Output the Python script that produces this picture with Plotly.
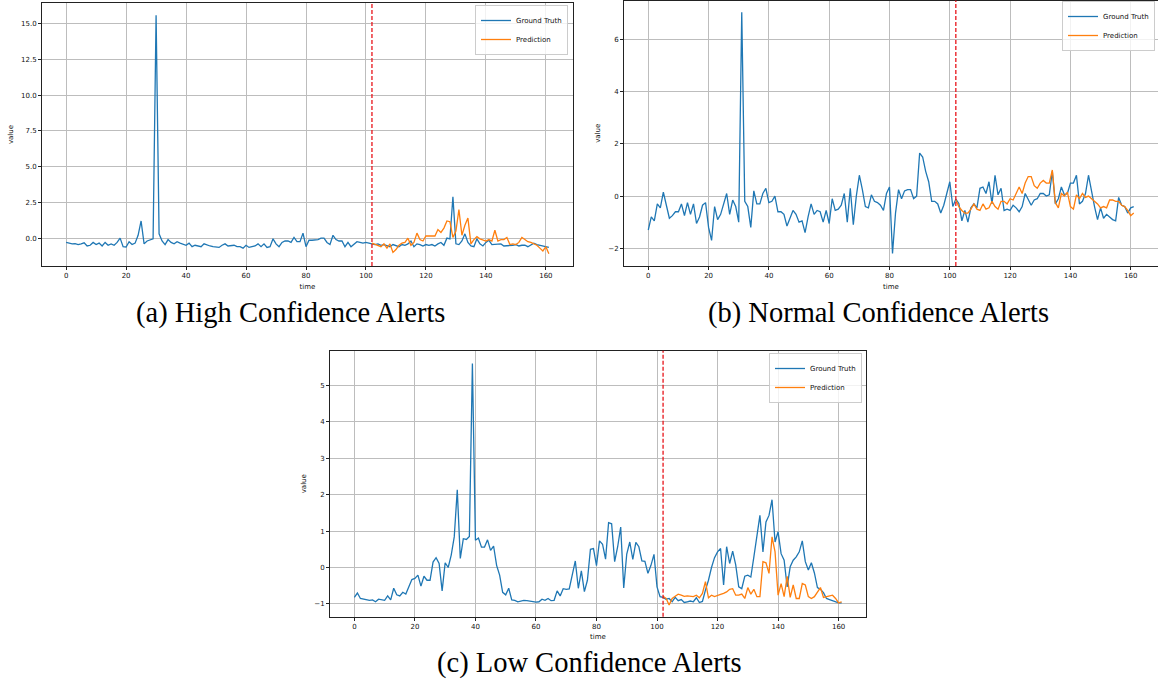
import plotly.graph_objects as go

# ---------------- data ----------------
time_gt = list(range(0, 162))
time_pred = list(range(102, 162))
split_time = 102

gt_high = [
    -0.3, -0.35, -0.4, -0.38, -0.45, -0.4, -0.33, -0.55, -0.5, -0.3,
    -0.45, -0.35, -0.55, -0.3, -0.5, -0.4, -0.5, -0.3, 0.0, -0.6,
    -0.62, -0.25, -0.45, -0.35, 0.2, 1.2, -0.4, -0.2, -0.1, -0.05,
    15.6, 0.3, -0.2, -0.45, -0.1, -0.3, -0.4, -0.25, -0.35, -0.45,
    -0.5, -0.35, -0.6, -0.5, -0.55, -0.6, -0.4, -0.5, -0.55, -0.6,
    -0.6, -0.65, -0.5, -0.4, -0.55, -0.55, -0.5, -0.6, -0.6, -0.7,
    -0.5, -0.65, -0.6, -0.55, -0.4, -0.6, -0.4, -0.65, -0.6, -0.05,
    -0.4, -0.6, -0.3, -0.2, -0.2, -0.3, 0.05, -0.25, -0.25, 0.35,
    -0.6, -0.15, -0.15, -0.15, -0.1, 0.0, 0.0, -0.3, -0.45, 0.2,
    -0.1, -0.2, -0.2, -0.6, -0.3, -0.6, -0.4, -0.25, -0.3, -0.35,
    -0.3, -0.35,
    -0.35, -0.45, -0.4, -0.5, -0.45, -0.5, -0.6, -0.45, -0.5, -0.6,
    -0.45, -0.5, -0.4, -0.2, -0.6, -0.4, -0.45, -0.55, -0.45, -0.5,
    -0.45, -0.55, -0.4, -0.3, -0.5, 0.0, -0.05, 2.9, -0.4, -0.45,
    -0.2, 0.3, -0.3, -0.55, -0.6, -0.05, -0.4, -0.55, -0.3, -0.15,
    -0.45, -0.45, -0.45, -0.4, -0.55, -0.55, -0.5, -0.5, -0.45, -0.55,
    -0.5, -0.5, -0.6, -0.5, -0.35, -0.45, -0.5, -0.6, -0.65, -0.65,
]
pred_high = [
    -0.35, -0.45, -0.55, -0.6, -0.4, -0.7, -0.4, -1.0, -0.8, -0.5,
    -0.35, -0.3, 0.0, -0.5, -0.3, 0.35, -0.1, -0.2, 0.15, 0.15,
    0.2, 0.15, 0.6, 0.4, 0.7, 1.2, 1.15, 0.05, 0.5, 2.0,
    0.2, 0.9, 1.4, -0.4, -0.1, 0.1, -0.05, -0.15, -0.2, -0.1,
    -0.2, 0.55, -0.2, -0.1, -0.1, 0.05, -0.45, -0.4, -0.45, -0.3,
    0.05, -0.1, -0.25, -0.3, -0.4, -0.5, -0.7, -0.9, -0.6, -1.1,
]

gt_normal = [
    -1.3, -0.8, -0.95, -0.3, -0.45, 0.15, -0.35, -0.85, -0.75, -0.6,
    -0.6, -0.3, -0.75, -0.25, -0.7, -0.3, -1.05, -0.8, -0.35, -0.25,
    -1.2, -1.7, -0.4, -0.9, -0.7, -0.3, 0.1, -0.7, -0.15, -0.4,
    -1.0, 7.05, -0.2, -0.4, -1.2, 0.2, -0.3, -0.3, 0.1, 0.3,
    -0.25, -0.2, 0.0, -0.6, -0.6, -0.7, -1.15, -0.85, -0.55, -0.7,
    -1.0, -0.95, -1.4, -0.8, -0.3, -0.7, -0.55, -0.6, -1.0, -0.55,
    -1.05, -0.1, -0.55, -0.5, -0.35, 0.1, -1.0, 0.3, -1.1, 0.0,
    0.8, 0.25, -0.4, -0.45, 0.05, -0.2, -0.25, -0.35, -0.55, 0.1,
    0.35, -2.2, -0.65, 0.25, -0.1, 0.2, 0.25, 0.25, -0.1, 0.0,
    1.65, 1.5, 0.95, 0.55, -0.2, -0.2, -0.3, -0.65, -0.35, 0.1,
    0.55, -0.4, -0.12, -0.28, -0.95, -0.55, -1.0, -0.45, -0.3, -0.45,
    0.3, 0.35, 0.1, 0.55, -0.3, 0.8, 0.05, 0.3, -0.55, -0.5,
    -0.55, -0.35, -0.45, -0.6, -0.4, 0.1, -0.1, -0.35, -0.15, -0.1,
    0.1, 0.1, 0.0, 0.05, 0.95, -0.3, -0.1, 0.35, 0.05, 0.1,
    0.5, 0.5, 0.8, -0.3, -0.2, 0.1, 0.8, 0.15, -0.4, -0.9,
    -0.45, -0.85, -0.7, -0.8, -0.9, -0.95, -0.05, -0.35, -0.4, -0.65,
    -0.45, -0.4,
]
pred_normal = [
    -0.15, -0.4, -0.55, -0.65, -0.65, -0.5, -0.3, -0.5, -0.55, -0.3,
    -0.5, -0.45, -0.2, -0.4, -0.5, -0.2, -0.2, -0.3, -0.1, -0.15,
    0.1, 0.35, 0.1, 0.5, 0.75, 0.75, 0.4, 0.3, 0.5, 0.6,
    0.5, 0.5, 1.0, -0.25, -0.45, 0.1, 0.0, 0.15, -0.4, -0.5,
    0.05, -0.1, 0.1, -0.05, 0.0, -0.1, -0.2, -0.3, -0.45, -0.4,
    -0.45, -0.15, -0.15, -0.2, -0.2, -0.35, -0.4, -0.55, -0.75, -0.65,
]

gt_low = [
    -0.82, -0.7, -0.85, -0.87, -0.89, -0.9, -0.89, -0.94, -0.87, -0.89,
    -0.9, -0.78, -0.89, -0.57, -0.75, -0.78, -0.68, -0.73, -0.53, -0.33,
    -0.3, -0.21, -0.51, -0.24, -0.35, -0.35, 0.15, 0.27, 0.11, -0.64,
    0.13, 0.0, 0.34, 0.84, 2.13, 0.25, 0.79, 0.77, 0.85, 5.6,
    0.75, 0.81, 0.56, 0.56, 0.76, 0.47, 0.59, 0.06, -0.21, -0.68,
    -0.75, -0.57, -0.89, -0.9, -0.94, -0.92, -0.9, -0.91, -0.92, -0.95,
    -0.95, -0.94, -0.87, -0.9, -0.85, -0.91, -0.9, -0.64, -0.78, -0.58,
    -0.6, -0.59, -0.21, 0.18, -0.57, -0.09, -0.66, -0.35, 0.5, 0.52,
    0.05, 0.73, 0.64, 0.23, 1.23, 1.2, 0.16, 0.57, 1.11, -0.56,
    0.37, 0.7, 0.22, 0.69, 0.57, 0.18, 0.17, -0.16, 0.06, 0.36,
    -0.53, -0.8, -0.82, -0.87, -0.85, -0.94, -0.82, -0.91, -0.88, -0.96,
    -0.94, -0.92, -0.94, -0.83, -0.96, -0.93, -0.62, -0.35, 0.0, 0.27,
    0.43, 0.52, -0.48, 0.57, 0.11, 0.45, 0.07, -0.53, -0.58, -0.24,
    -0.21, -0.26, 0.29, 0.84, 1.43, 0.43, 1.25, 1.43, 1.86, 0.7,
    0.98, 0.38, 0.2, -0.53, 0.02, 0.2, 0.29, 0.43, 0.73, 0.16,
    -0.07, 0.13, -0.15, -0.55, -0.6, -0.69, -0.85, -0.88, -0.91, -0.93,
    -0.97, -0.97,
]
pred_low = [
    -0.79, -0.85, -1.03, -0.85, -0.79, -0.73, -0.76, -0.79, -0.78, -0.79,
    -0.8, -0.76, -0.83, -0.71, -0.39, -0.83, -0.76, -0.8, -0.76, -0.74,
    -0.71, -0.67, -0.6, -0.58, -0.76, -0.76, -0.73, -0.85, -0.55, -0.73,
    -0.6, -0.8, -0.8, 0.16, 0.13, -0.16, 0.84, 0.43, -0.76, -0.44,
    -0.8, -0.24, -0.82, -0.48, -0.85, -0.85, -0.44, -0.48, -0.8, -0.85,
    -0.8, -0.69, -0.55, -0.82, -0.8, -0.78, -0.76, -0.85, -0.97, -0.94,
]

captions = ["(a) High Confidence Alerts", "(b) Normal Confidence Alerts", "(c) Low Confidence Alerts"]
series_names = ["Ground Truth", "Prediction"]

# ---------------- figure ----------------
W, H = 1158, 682
BLUE, ORANGE = "#1f77b4", "#ff7f0e"
TICK_FONT = dict(family="DejaVu Sans", size=7, color="#111111")

fig = go.Figure()

panels = [
    (gt_high, pred_high, "", "legend"),
    (gt_normal, pred_normal, "2", "legend2"),
    (gt_low, pred_low, "3", "legend3"),
]
for gt, pred, sfx, leg in panels:
    fig.add_trace(go.Scatter(x=time_gt, y=gt, mode="lines", name=series_names[0],
                             line=dict(color=BLUE, width=1.3),
                             xaxis="x" + sfx, yaxis="y" + sfx, legend=leg))
    fig.add_trace(go.Scatter(x=time_pred, y=pred, mode="lines", name=series_names[1],
                             line=dict(color=ORANGE, width=1.3),
                             xaxis="x" + sfx, yaxis="y" + sfx, legend=leg))
    fig.add_shape(type="line", xref="x" + sfx, yref=("y" + sfx) + " domain",
                  x0=split_time, x1=split_time, y0=0, y1=1,
                  line=dict(color="#e8141a", width=1.3, dash="4px,2px"), layer="above")


def px_x(p):
    return p / W


def px_y(p):
    return 1 - p / H


def axis_common():
    return dict(showline=True, mirror=True, linecolor="#222222", linewidth=1,
                ticks="outside", ticklen=3, tickwidth=1, tickcolor="#222222",
                showgrid=True, gridcolor="#bdbdbd", gridwidth=1, zeroline=False,
                tickfont=TICK_FONT)


xr = [-8.05, 169.05]
layout_axes = {
    "xaxis": dict(domain=[px_x(42), px_x(573)], anchor="y", range=xr, tick0=0, dtick=20,
                  title=dict(text="time", font=TICK_FONT, standoff=4), **axis_common()),
    "yaxis": dict(domain=[px_y(266), px_y(3)], anchor="x", range=[-1.95, 16.45], tick0=0, dtick=2.5,
                  tickformat=".1f", title=dict(text="value", font=TICK_FONT, standoff=6), **axis_common()),
    "xaxis2": dict(domain=[px_x(624), 1.0], anchor="y2", range=xr, tick0=0, dtick=20,
                   title=dict(text="time", font=TICK_FONT, standoff=4), **axis_common()),
    "yaxis2": dict(domain=[px_y(266), px_y(0.5)], anchor="x2", range=[-2.68, 7.5], tick0=0, dtick=2,
                   title=dict(text="value", font=TICK_FONT, standoff=6), **axis_common()),
    "xaxis3": dict(domain=[px_x(330), px_x(866)], anchor="y3", range=xr, tick0=0, dtick=20,
                   title=dict(text="time", font=TICK_FONT, standoff=4), **axis_common()),
    "yaxis3": dict(domain=[px_y(616.7), px_y(350.7)], anchor="x3", range=[-1.35, 5.95], tick0=0, dtick=1,
                   title=dict(text="value", font=TICK_FONT, standoff=6), **axis_common()),
}

legend_style = dict(font=dict(family="DejaVu Sans", size=7, color="#111111"),
                    bgcolor="rgba(255,255,255,0.8)", bordercolor="#cccccc", borderwidth=1,
                    xanchor="right", yanchor="top", itemwidth=30, tracegroupgap=0,
                    xref="paper", yref="paper")

fig.update_layout(
    width=W, height=H,
    margin=dict(l=0, r=0, t=0, b=0),
    paper_bgcolor="white", plot_bgcolor="white",
    showlegend=True,
    legend=dict(x=px_x(568), y=px_y(5), **legend_style),
    legend2=dict(x=px_x(1155), y=px_y(1), **legend_style),
    legend3=dict(x=px_x(862), y=px_y(353), **legend_style),
    **layout_axes,
)

cap_font = dict(family="Liberation Serif", size=28.5, color="black")
for text, cx, cy in [(captions[0], 290, 313), (captions[1], 878, 313), (captions[2], 589, 663)]:
    fig.add_annotation(text=text, xref="paper", yref="paper", x=px_x(cx), y=px_y(cy),
                       xanchor="center", yanchor="middle", showarrow=False, font=cap_font)

fig.write_html("out.html")
